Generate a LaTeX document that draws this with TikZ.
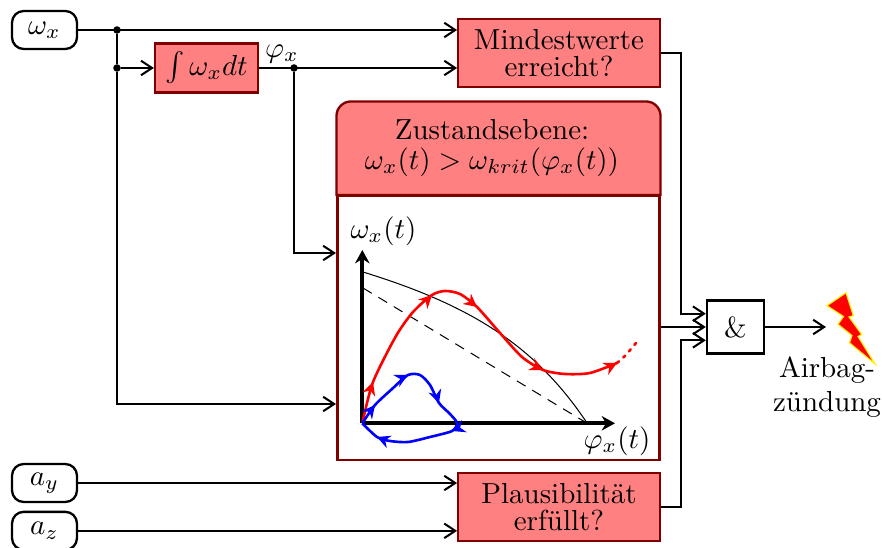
\documentclass[tikz,border=0pt]{standalone}
\usepackage{amsmath,amssymb,amsfonts}
\usepackage{xcolor}
\usepackage{tikz}
\usetikzlibrary{arrows.meta,positioning,calc,backgrounds}
\definecolor{blockred}{HTML}{FF8080}
\definecolor{blockline}{HTML}{800000}

\begin{document}
\begin{tikzpicture}[
x=0.345pt,y=-0.345pt,
node distance=2.6pt,
input/.style={rectangle,rounded corners=4pt,draw,line width=.8pt,minimum width=22.4pt,minimum height=13.1pt,inner sep=0pt},
block/.style={rectangle,draw=blockline,fill=blockred,line width=.8pt,align=center,inner sep=0pt},
gate/.style={rectangle,draw,line width=.8pt,minimum width=19.7pt,minimum height=18.3pt,inner sep=0pt},
dot/.style={circle,fill,inner sep=0pt,minimum size=2.6pt},
arrow/.style={-{Straight Barb[length=3.8pt,width=5pt]},line width=.7pt},
wire/.style={line width=.7pt},
axis/.style={-{Stealth[length=4.6pt,width=5pt]},line width=1.35pt},
track/.style={line width=.9pt,smooth,tension=.45},
flow/.style={line width=.9pt,-{Stealth[length=4.5pt,width=4.5pt]}}]
\useasboundingbox (0,0) rectangle (882,548);

% inputs
\node[input] (omega) at (44.5,30) {$\omega_x$};
\node[input] (ay) at (44.5,483) {$a_y$};
\node[input, below=of ay] (az) {$a_z$};

% blocks
\node[block,minimum width=35.5pt,minimum height=16.9pt] (integ) at (206.5,68) {$\int\omega_x dt$};
\node[block,minimum width=69.5pt,minimum height=23.5pt] (mindest) at (559,53) {Mindestwerte\\[-2.5pt]erreicht?};
\node[block,minimum width=69.5pt,minimum height=23.5pt] (plaus) at (559,507) {Plausibilität\\[-2.5pt]erfüllt?};
\node[rectangle,draw=blockline,line width=.8pt,minimum width=111pt,minimum height=91pt,inner sep=0pt] (ebene) at (498.5,328) {};
\node[align=center,inner sep=0pt] (header) at (492,148) {Zustandsebene:\\[-1.7pt]$\omega_x(t)>\omega_{krit}(\varphi_x(t))$};
\begin{scope}[on background layer]
\draw[draw=blockline,fill=blockred,line width=.8pt] (ebene.north west) [rounded corners=5pt] -- ++(0,-93.5) -- ($(ebene.north east)+(0,-93.5)$) [sharp corners] -- (ebene.north east) -- cycle;
\end{scope}
\node[gate] (und) at (735.5,327) {\&};
\node[align=center,inner sep=0pt] (airbag) at (827,387) {Airbag-\\zündung};

% junctions
\node[dot] (split1) at (117,30) {};
\node[dot] (split2) at (117,68) {};
\node[dot] (split3) at (294,68) {};
\node[inner sep=0pt] (phi) at (282,54) {$\varphi_x$};
\coordinate (inphi) at (336,253);
\coordinate (inomega) at (336,404);
\coordinate (boltin) at (826,327);

% connectors
\draw[arrow] (omega) -- (mindest.west |- omega);
\draw[wire] (split1) -- (split2);
\draw[arrow] (split2) -- (integ);
\draw[arrow] (split2) |- (inomega);
\draw[arrow] (integ) -- (mindest.west |- integ);
\draw[arrow] (split3) |- (inphi);
\draw[arrow] (ay) -- (plaus.west |- ay);
\draw[arrow] (az) -- (plaus.west |- az);
\draw[arrow] (mindest.east) -- ++(20,0) |- ([yshift=4.6pt]und.west);
\draw[arrow] (ebene.east |- und) -- (und);
\draw[arrow] (plaus.east) -- ++(20,0) |- ([yshift=-4.6pt]und.west);
\draw[arrow] (und) -- (boltin);

% bolt
\filldraw[fill=red,draw=yellow,line width=.4pt] (827,305.7) -- (846,292.8) -- (853.3,315.7) -- (849,317) -- (861.7,334.5) -- (858,336.5) -- (875,364) -- (849.5,342.8) -- (852,335.5) -- (838,324.3) -- (843.5,316.5) -- cycle;

% plot
\coordinate (origin) at (362.3,423.3);
\coordinate (ytop) at (362.3,250);
\coordinate (xend) at (615,423.3);
\draw[axis] (origin) -- (ytop);
\draw[axis] (origin) -- (xend);
\node[inner sep=0pt] (ylabel) at (383.5,231) {$\omega_x(t)$};
\node[inner sep=0pt] (xlabel) at (617,441) {$\varphi_x(t)$};
\draw[line width=.35pt] (363,272) .. controls (470,305) and (535,345) .. (587,423);
\draw[line width=.35pt,dash pattern=on 3.5pt off 2.7pt] (363,288) -- (585,422);
% red track
\draw[track,red] plot coordinates {(362.3,423.3) (373,382) (396,336) (413,312) (432,295) (445,291) (460,294) (477,307) (500,333) (522,357) (543,370) (565,374) (590,373) (617,363)};
\draw[flow,red] (371,388) -- (373,382);
\draw[flow,red] (426,301) -- (432,295);
\draw[flow,red] (472,303) -- (477,307);
\draw[flow,red] (537,367) -- (543,370);
\draw[flow,red] (611,366) -- (617,363);
\draw[red,line width=.9pt,dotted,line cap=round] (617,363) -- (626,355) -- (636,343);
% blue track
\draw[track,blue] plot coordinates {(362.3,423.3) (375,405) (392,389) (408,375) (420,375) (430,385) (439,403) (450,414) (457,423) (452,431) (430,437) (408,442) (390,441) (377,437) (362.3,423.3)};
\draw[flow,blue] (371,410) -- (375,405);
\draw[flow,blue] (402,378) -- (408,375);
\draw[flow,blue] (437,397) -- (439,403);
\draw[flow,blue] (457,429) -- (452,431);
\draw[flow,blue] (382,439) -- (377,437);
\end{tikzpicture}
\end{document}
